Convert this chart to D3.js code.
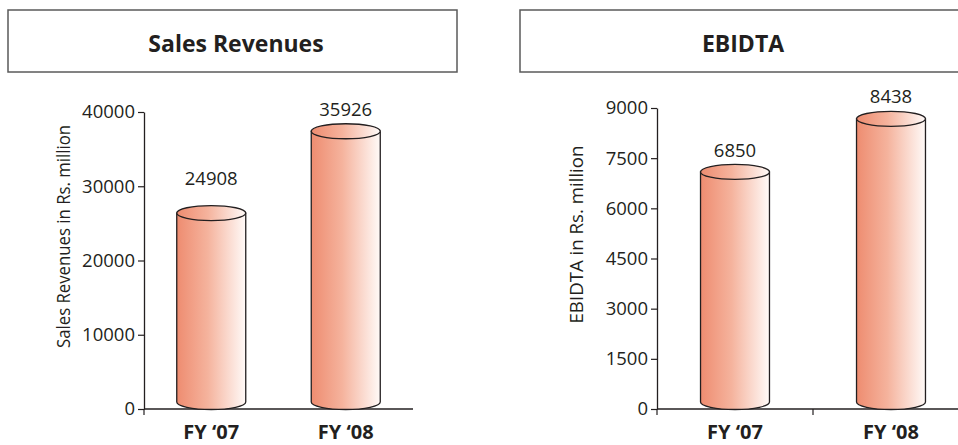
<!DOCTYPE html>
<html>
<head>
<meta charset="utf-8">
<script src="https://cdn.jsdelivr.net/npm/d3@7"></script>
<style>
  html, body { margin: 0; padding: 0; background: #ffffff; }
  svg { display: block; }
</style>
</head>
<body>
<svg id="chart" width="958" height="445"></svg>
<script>
// ---- data ----
const categories = ["FY \u201807", "FY \u201808"];
const salesValues = [24908, 35926];
const ebidtaValues = [6850, 8438];
const salesTicks = [0, 10000, 20000, 30000, 40000];
const ebidtaTicks = [0, 1500, 3000, 4500, 6000, 7500, 9000];
const chartTitles = ["Sales Revenues", "EBIDTA"];
const axisTitles = ["Sales Revenues in Rs. million", "EBIDTA in Rs. million"];

// ---- layout ----
const ink = "#231F20";
const font = "'Open Sans', 'Noto Sans', sans-serif";
const svg = d3.select("#chart");

const defs = svg.append("defs");
const grad = defs.append("linearGradient").attr("id", "cyl").attr("x1", 0).attr("x2", 1).attr("y1", 0).attr("y2", 0);
[["0%", "#EE8C70"], ["45%", "#F5B39D"], ["100%", "#FFFAF8"]].forEach(([o, c]) =>
  grad.append("stop").attr("offset", o).attr("stop-color", c));

const panels = [
  {
    title: chartTitles[0], axisTitle: axisTitles[0], values: salesValues, ticks: salesTicks,
    box: [8, 457], titleX: 236, xRange: [144, 413], yRange: [409, 112], padding: 0.487,
    capLift: 11, labelLift: [39, 26], axisTitleX: 70, axisTitleLen: 223, midTick: false
  },
  {
    title: chartTitles[1], axisTitle: axisTitles[1], values: ebidtaValues, ticks: ebidtaTicks,
    box: [520, 968], titleX: 743, xRange: [657, 969], yRange: [409, 108], padding: 0.558,
    capLift: 8, labelLift: [23, 24], axisTitleX: 583, axisTitleLen: 178, midTick: true
  }
];

panels.forEach(p => {
  const g = svg.append("g");

  // title box
  g.append("rect")
    .attr("x", p.box[0]).attr("y", 10)
    .attr("width", p.box[1] - p.box[0]).attr("height", 62)
    .attr("fill", "#fff").attr("stroke", "#5a5a5a").attr("stroke-width", 1.5);
  g.append("text")
    .attr("x", p.titleX).attr("y", 52)
    .attr("text-anchor", "middle")
    .attr("font-family", font).attr("font-weight", 700).attr("font-size", 23)
    .attr("fill", ink).text(p.title);

  const x = d3.scaleBand().domain(categories).range(p.xRange)
    .paddingInner(p.padding).paddingOuter(p.padding / 2);
  const y = d3.scaleLinear().domain([0, d3.max(p.ticks)]).range(p.yRange);
  const y0 = y(0);

  // y axis
  const yAxis = g.append("g")
    .attr("transform", `translate(${p.xRange[0]},0)`)
    .call(d3.axisLeft(y).tickValues(p.ticks).tickSize(6).tickSizeOuter(0).tickPadding(3).tickFormat(d3.format("d")));
  yAxis.select(".domain").attr("stroke", ink).attr("stroke-width", 1.3);
  yAxis.selectAll(".tick line").attr("stroke", ink).attr("stroke-width", 1.2);
  yAxis.selectAll(".tick text")
    .attr("font-family", font).attr("font-size", 18.5).attr("fill", ink);

  // x axis line + ticks at band boundaries
  g.append("line")
    .attr("x1", p.xRange[0]).attr("x2", p.xRange[1])
    .attr("y1", y0).attr("y2", y0)
    .attr("stroke", ink).attr("stroke-width", 1.3);
  const bounds = [p.xRange[0]];
  if (p.midTick) bounds.push(p.xRange[0] + x.step());
  g.selectAll(".xtick").data(bounds).enter().append("line")
    .attr("x1", d => d).attr("x2", d => d)
    .attr("y1", y0).attr("y2", y0 + 6)
    .attr("stroke", ink).attr("stroke-width", 1.2);

  // category labels
  g.selectAll(".cat").data(categories).enter().append("text")
    .attr("x", d => x(d) + x.bandwidth() / 2)
    .attr("y", 439)
    .attr("text-anchor", "middle")
    .attr("font-family", font).attr("font-weight", 700).attr("font-size", 20)
    .attr("fill", ink).text(d => d);

  // axis title
  g.append("text")
    .attr("transform", `translate(${p.axisTitleX},${(p.yRange[0] + p.yRange[1]) / 2 - 24}) rotate(-90)`)
    .attr("text-anchor", "middle")
    .attr("font-family", font).attr("font-size", 19)
    .attr("textLength", p.axisTitleLen).attr("lengthAdjust", "spacingAndGlyphs")
    .attr("fill", ink).text(p.axisTitle);

  // cylinders
  const ry = 7.5;
  const rx = x.bandwidth() / 2;
  p.values.forEach((v, i) => {
    const cx = x(categories[i]) + rx;
    const yTop = y(v) - p.capLift;
    const yBot = y0 - 7;
    g.append("path")
      .attr("d", `M${cx - rx},${yTop} L${cx - rx},${yBot} A${rx},${ry} 0 0 0 ${cx + rx},${yBot} L${cx + rx},${yTop} Z`)
      .attr("fill", "url(#cyl)").attr("stroke", ink).attr("stroke-width", 1.3);
    g.append("ellipse")
      .attr("cx", cx).attr("cy", yTop).attr("rx", rx).attr("ry", ry)
      .attr("fill", "url(#cyl)").attr("stroke", ink).attr("stroke-width", 1.3);
    g.append("text")
      .attr("x", cx).attr("y", y(v) - p.labelLift[i])
      .attr("text-anchor", "middle")
      .attr("font-family", font).attr("font-size", 18.5)
      .attr("fill", ink).text(v);
  });
});
</script>
</body>
</html>
